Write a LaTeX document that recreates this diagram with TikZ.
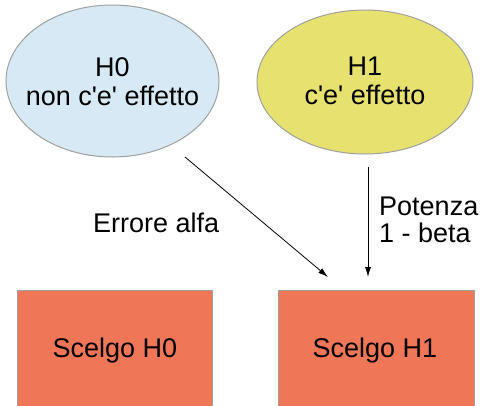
\documentclass[tikz,border=0pt]{standalone}
\usepackage{fontspec}
\setmainfont{Liberation Sans}
\usetikzlibrary{shapes.geometric,arrows.meta}
\definecolor{hzero}{HTML}{D7E9F4}
\definecolor{hone}{HTML}{E7E16F}
\definecolor{boxc}{HTML}{EF7758}
\definecolor{edgec}{HTML}{A0A0A0}
\newcommand{\sq}{\textquotesingle}
\begin{document}
\begin{tikzpicture}[x=1pt,y=-1pt,
  hyp/.style={ellipse,draw=edgec,line width=1pt,inner sep=0pt},
  choice/.style={rectangle,draw=edgec,fill=boxc,line width=1pt,inner sep=0pt,minimum height=116pt},
  txt/.style={inner sep=0pt,font=\fontsize{27}{29}\selectfont,align=center},
  lbl/.style={inner sep=0pt,font=\fontsize{27}{27}\selectfont,align=left},
  conn/.style={-{Latex[length=10pt,width=6pt]},line width=0.8pt,black}]
\path[use as bounding box,clip] (0,0) rectangle (481,405);
\fill[white] (0,0) rectangle (481,405);
% hypotheses
\node[hyp,fill=hzero,minimum width=213pt,minimum height=152pt] (h0) at (112.5,81) {};
\node[hyp,fill=hone,minimum width=216pt,minimum height=144pt] (h1) at (365,82) {};
\node[txt,anchor=north] (t0) at (112.5,57) {H0\\non c\sq e\sq{} effetto};
\node[txt,anchor=north] (t1) at (365,57) {H1\\c\sq e\sq{} effetto};
% choices
\node[choice,minimum width=195pt] (c0) at (115,348) {};
\node[choice,minimum width=196pt] (c1) at (376,348) {};
\node[txt,anchor=base] (s0) at (115,357) {Scelgo H0};
\node[txt,anchor=base] (s1) at (375,357) {Scelgo H1};
% connectors
\coordinate (a0) at (185,157);
\coordinate (a1) at (328,277);
\coordinate (b0) at (368,167);
\coordinate (b1) at (368,277);
\draw[conn] (a0) -- (a1);
\draw[conn] (b0) -- (b1);
% labels
\node[lbl,anchor=base west] (la) at (93,232.5) {Errore alfa};
\node[lbl,anchor=north west] (lb) at (379,197) {Potenza\\1 - beta};
\end{tikzpicture}
\end{document}
